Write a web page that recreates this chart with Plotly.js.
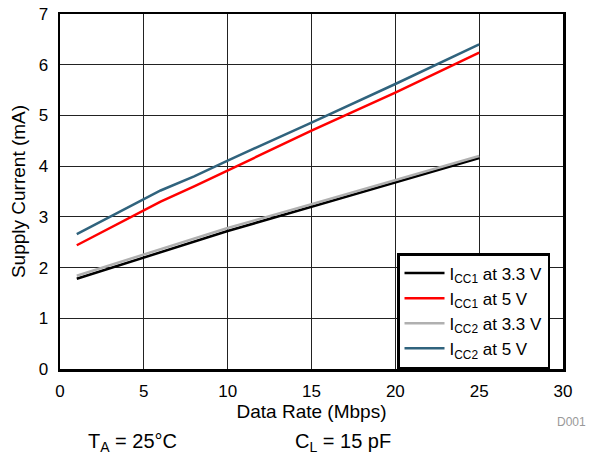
<!DOCTYPE html>
<html><head><meta charset="utf-8">
<script src="https://cdn.plot.ly/plotly-3.0.1.min.js"></script>
<style>html,body{margin:0;padding:0;background:#fff}#chart{width:589px;height:458px}</style>
</head><body><div id="chart"></div>
<script>
const dataRate = [1, 6, 8, 10, 15, 20, 25];
const icc1_33 = [1.78, 2.30, 2.50, 2.72, 3.20, 3.68, 4.16];
const icc1_5  = [2.44, 3.30, 3.60, 3.91, 4.70, 5.45, 6.24];
const icc2_33 = [1.84, 2.36, 2.56, 2.78, 3.25, 3.72, 4.20];
const icc2_5  = [2.66, 3.52, 3.80, 4.11, 4.86, 5.62, 6.40];
const names = ['I<sub>CC1</sub> at 3.3 V','I<sub>CC1</sub> at 5 V','I<sub>CC2</sub> at 3.3 V','I<sub>CC2</sub> at 5 V'];
const colors = ['#000000','#ff0000','#b0b0b0','#30637d'];
const series = [icc1_33, icc1_5, icc2_33, icc2_5];
const traces = series.map((s,i)=>({x:dataRate,y:s,type:'scatter',mode:'lines',name:names[i],line:{color:colors[i],width:2.5}}));
const font = {family:'Liberation Sans, Arial, sans-serif', size:17, color:'#000'};
const layout = {
  width:589, height:458,
  margin:{l:60,r:26,t:14,b:89},
  paper_bgcolor:'#fff', plot_bgcolor:'#fff',
  font: font,
  showlegend:true,
  legend:{x:0.67,y:0,xanchor:'left',yanchor:'bottom',bgcolor:'#fff',bordercolor:'#000',borderwidth:2.5,font:{family:font.family,size:17},tracegroupgap:0,itemwidth:40},
  xaxis:{range:[0,30],dtick:5,showgrid:true,gridcolor:'#222',gridwidth:1,showline:true,linecolor:'#000',linewidth:2.5,mirror:true,zeroline:false,ticks:'',ticklabelstandoff:5,
    title:{text:'Data Rate (Mbps)',font:{size:19},standoff:3}},
  yaxis:{range:[0,7],dtick:1,showgrid:true,gridcolor:'#222',gridwidth:1,showline:true,linecolor:'#000',linewidth:2.5,mirror:true,zeroline:false,ticks:'',ticklabelstandoff:6,
    title:{text:'Supply Current (mA)',font:{size:19},standoff:8}},
  annotations:[
    {xref:'paper',yref:'paper',x:0.145,y:-0.208,text:'T<sub>A</sub> = 25°C',showarrow:false,font:{size:20},xanchor:'center',yanchor:'middle'},
    {xref:'paper',yref:'paper',x:0.563,y:-0.208,text:'C<sub>L</sub> = 15 pF',showarrow:false,font:{size:20},xanchor:'center',yanchor:'middle'},
    {xref:'paper',yref:'paper',x:1.05,y:-0.149,text:'D001',showarrow:false,font:{size:12,color:'#999'},xanchor:'right',yanchor:'middle'}
  ]
};
Plotly.newPlot('chart', traces, layout, {displayModeBar:false, staticPlot:true});
</script></body></html>
